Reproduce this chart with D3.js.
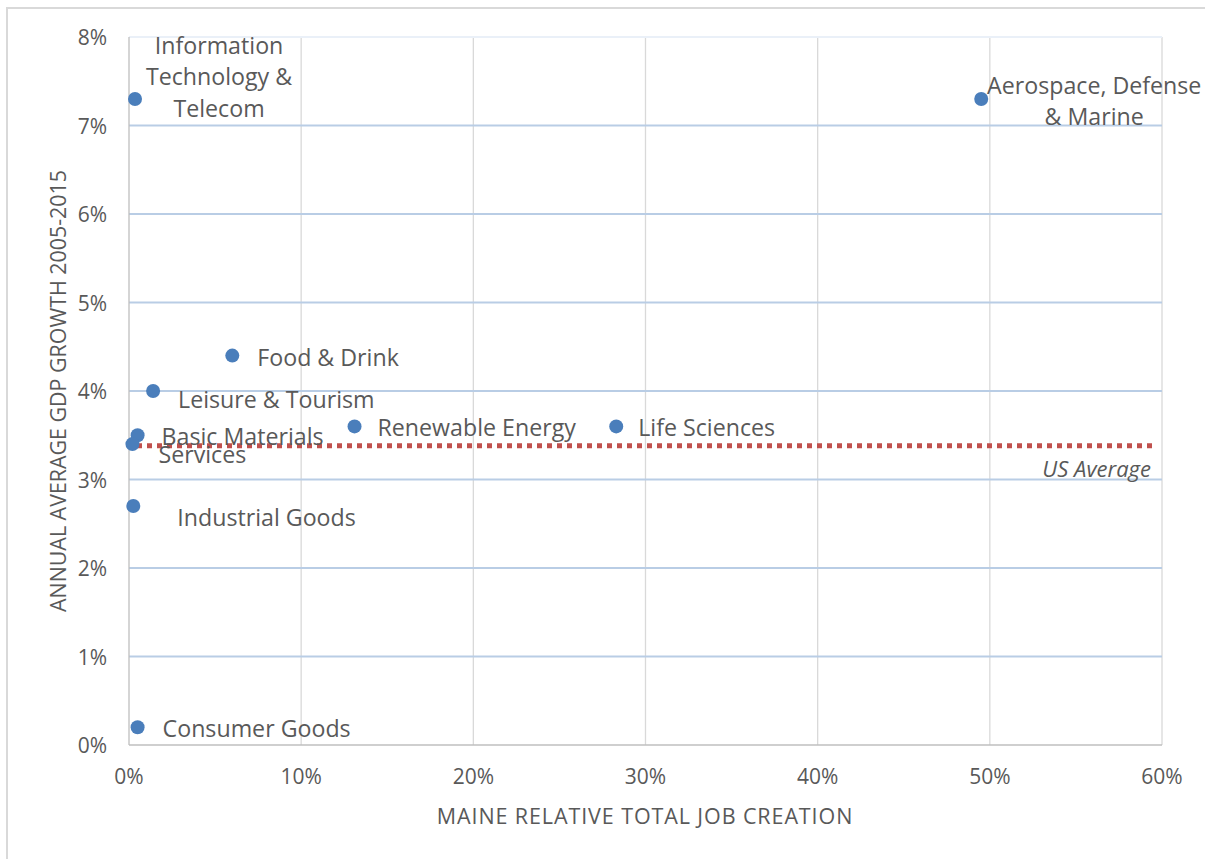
<!DOCTYPE html>
<html>
<head>
<meta charset="utf-8">
<script src="https://cdn.jsdelivr.net/npm/d3@7"></script>
<style>
  body { margin: 0; background: #fff; }
  svg { display: block; font-family: "Open Sans", "Liberation Sans", sans-serif; }
</style>
</head>
<body>
<svg width="1205" height="859"></svg>
<script>
'use strict';
// clusters, job creation share (%), annual GDP growth (%)
var clusters = ["Information Technology & Telecom", "Aerospace, Defense & Marine", "Food & Drink",
  "Leisure & Tourism", "Renewable Energy", "Life Sciences", "Basic Materials", "Services",
  "Industrial Goods", "Consumer Goods"];
var jobCreation = [0.35, 49.5, 6.0, 1.4, 13.1, 28.3, 0.5, 0.2, 0.25, 0.5];
var gdpGrowth = [7.3, 7.3, 4.4, 4.0, 3.6, 3.6, 3.5, 3.4, 2.7, 0.2];
var usAverage = 3.38;
var xTicks = [0, 10, 20, 30, 40, 50, 60];
var yTicks = [0, 1, 2, 3, 4, 5, 6, 7, 8];

var svg = d3.select("svg"),
  width = +svg.attr("width"),
  height = +svg.attr("height");

var x = d3.scaleLinear().domain([0, 60]).range([129, 1162]),
    y = d3.scaleLinear().domain([0, 8]).range([745, 37]);

// chart frame
svg.append("rect")
  .attr("x", 7).attr("y", 8)
  .attr("width", width).attr("height", height)
  .attr("fill", "none").attr("stroke", "#d9d9d9").attr("stroke-width", 2);

// gridlines
svg.append("g").selectAll("line")
  .data(xTicks.slice(1))
  .enter().append("line")
    .attr("x1", function(d) { return x(d); }).attr("x2", function(d) { return x(d); })
    .attr("y1", y(8)).attr("y2", y(0))
    .attr("stroke", "#d9d9d9").attr("stroke-width", 1.3);

svg.append("g").selectAll("line")
  .data(yTicks.slice(1))
  .enter().append("line")
    .attr("x1", x(0)).attr("x2", x(60))
    .attr("y1", function(d) { return y(d); }).attr("y2", function(d) { return y(d); })
    .attr("stroke", function(d) { return d === 8 ? "#eaf0f8" : "#b9cde5"; })
    .attr("stroke-width", 2);

// axis lines
svg.append("line")
  .attr("x1", x(0)).attr("x2", x(0)).attr("y1", y(8)).attr("y2", y(0))
  .attr("stroke", "#bfbfbf").attr("stroke-width", 1.3);
svg.append("line")
  .attr("x1", x(0)).attr("x2", x(60)).attr("y1", y(0)).attr("y2", y(0))
  .attr("stroke", "#bfbfbf").attr("stroke-width", 1.3);

// tick labels
svg.append("g").selectAll("text")
  .data(xTicks)
  .enter().append("text")
    .attr("x", function(d) { return x(d); })
    .attr("y", 776)
    .attr("text-anchor", "middle")
    .attr("dominant-baseline", "central")
    .attr("fill", "#595959").attr("font-size", 21)
    .text(function(d) { return d + "%"; });

svg.append("g").selectAll("text")
  .data(yTicks)
  .enter().append("text")
    .attr("x", 107)
    .attr("y", function(d) { return y(d); })
    .attr("text-anchor", "end")
    .attr("dominant-baseline", "central")
    .attr("fill", "#595959").attr("font-size", 21)
    .text(function(d) { return d + "%"; });

// axis titles
svg.append("text")
  .attr("x", 645).attr("y", 815)
  .attr("text-anchor", "middle").attr("dominant-baseline", "central")
  .attr("fill", "#595959").attr("font-size", 21.5)
  .attr("letter-spacing", 0.9)
  .text("MAINE RELATIVE TOTAL JOB CREATION");

svg.append("text")
  .attr("transform", "translate(57,391) rotate(-90)")
  .attr("text-anchor", "middle").attr("dominant-baseline", "central")
  .attr("fill", "#595959").attr("font-size", 21.4)
  .text("ANNUAL AVERAGE GDP GROWTH 2005-2015");

// US average reference line
svg.append("line")
  .attr("x1", 137).attr("x2", 1152)
  .attr("y1", y(usAverage)).attr("y2", y(usAverage))
  .attr("stroke", "#c0504d").attr("stroke-width", 5)
  .attr("stroke-dasharray", "5,5");

svg.append("text")
  .attr("x", 1151).attr("y", y(usAverage) + 22)
  .attr("text-anchor", "end").attr("dominant-baseline", "central")
  .attr("font-style", "italic").attr("fill", "#595959").attr("font-size", 22)
  .text("US Average");

// points
svg.append("g").selectAll("circle")
  .data(clusters)
  .enter().append("circle")
    .attr("cx", function(d, i) { return x(jobCreation[i]); })
    .attr("cy", function(d, i) { return y(gdpGrowth[i]); })
    .attr("r", 7)
    .attr("fill", "#4a7ebb");

// data labels, manually placed like the source chart (offsets in px from the point)
var labelLayout = [
  {lines: ["Information", "Technology &", "Telecom"], dx: 84, dy: -54, anchor: "middle"},
  {lines: ["Aerospace, Defense", "& Marine"], dx: 113, dy: -14, anchor: "middle"},
  {lines: ["Food & Drink"], dx: 25, dy: 1, anchor: "start"},
  {lines: ["Leisure & Tourism"], dx: 25, dy: 8, anchor: "start"},
  {lines: ["Renewable Energy"], dx: 23, dy: 1, anchor: "start"},
  {lines: ["Life Sciences"], dx: 22, dy: 1, anchor: "start"},
  {lines: ["Basic Materials"], dx: 24, dy: 1, anchor: "start"},
  {lines: ["Services"], dx: 26, dy: 10, anchor: "start"},
  {lines: ["Industrial Goods"], dx: 44, dy: 11, anchor: "start"},
  {lines: ["Consumer Goods"], dx: 25, dy: 1, anchor: "start"}
];

var labels = svg.append("g").selectAll("text")
  .data(clusters)
  .enter().append("text")
    .attr("text-anchor", function(d, i) { return labelLayout[i].anchor; })
    .attr("fill", "#595959").attr("font-size", 23.2);

labels.each(function(d, i) {
  var lay = labelLayout[i],
      px = x(jobCreation[i]) + lay.dx,
      py = y(gdpGrowth[i]) + lay.dy;
  d3.select(this).selectAll("tspan")
    .data(lay.lines)
    .enter().append("tspan")
      .attr("x", px)
      .attr("y", function(t, j) { return py + j * 31.5; })
      .attr("dominant-baseline", "central")
      .text(function(t) { return t; });
});
</script>
</body>
</html>
